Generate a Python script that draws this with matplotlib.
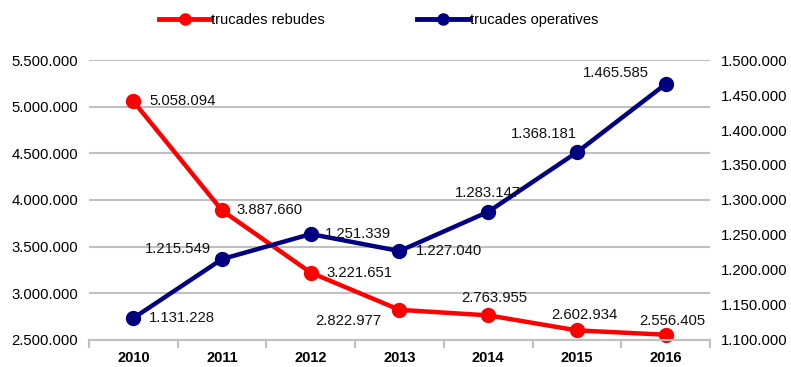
import matplotlib
matplotlib.use("Agg")
import matplotlib.pyplot as plt
from matplotlib.lines import Line2D
from matplotlib.ticker import FuncFormatter, MultipleLocator, FixedLocator

plt.rcParams["font.family"] = ["Liberation Sans", "DejaVu Sans"]

years = ["2010", "2011", "2012", "2013", "2014", "2015", "2016"]
rebudes = [5058094, 3887660, 3221651, 2822977, 2763955, 2602934, 2556405]
operatives = [1131228, 1215549, 1251339, 1227040, 1283147, 1368181, 1465585]

RED, BLUE, GRID = "#ff0000", "#000080", "#c0c0c0"
FS = 10.7

# label offsets in pixels (dx, dy, ha)
red_off = [(16, 0, "left"), (14, 0, "left"), (16, 0, "left"), (-18, -11, "right"),
           (6, 17, "center"), (7, 15, "center"), (7, 14, "center")]
blue_off = [(16, 0, "left"), (-11, 10, "right"), (14, 0, "left"), (16, 0, "left"),
            (0, 19, "center"), (0, 18, "right"), (-17, 11, "right")]


def dots(v, _=None):
    return f"{v:,.0f}".replace(",", ".")


fig = plt.figure(figsize=(7.91, 3.67), dpi=100)
ax = fig.add_axes([0.1125, 0.0736, 0.7851, 0.7629])
ax2 = ax.twinx()

x = list(range(len(years)))
ax.plot(x, rebudes, color=RED, lw=3.2, marker="o", ms=10, zorder=3, clip_on=False)
ax2.plot(x, operatives, color=BLUE, lw=3.2, marker="o", ms=10, zorder=3, clip_on=False)

for xi, v, (dx, dy, ha) in zip(x, rebudes, red_off):
    ax.annotate(dots(v), (xi, v), xytext=(dx, dy), textcoords="offset pixels",
                ha=ha, va="center", fontsize=FS, color="#111111")
for xi, v, (dx, dy, ha) in zip(x, operatives, blue_off):
    ax2.annotate(dots(v), (xi, v), xytext=(dx, dy), textcoords="offset pixels",
                 ha=ha, va="center", fontsize=FS, color="#111111")

ax.set_xlim(-0.5, len(years) - 0.5)
ax.set_ylim(2500000, 5500000)
ax2.set_ylim(1100000, 1500000)
ax.yaxis.set_major_locator(MultipleLocator(500000))
ax2.yaxis.set_major_locator(MultipleLocator(50000))
ax.yaxis.set_major_formatter(FuncFormatter(dots))
ax2.yaxis.set_major_formatter(FuncFormatter(dots))

ax.set_xticks(x)
ax.set_xticklabels(years, fontweight="bold", fontsize=10.5)
ax.xaxis.set_minor_locator(FixedLocator([i - 0.5 for i in range(len(years) + 1)]))
ax.tick_params(axis="x", which="major", length=0, pad=8)
ax.tick_params(axis="x", which="minor", length=6, color=GRID, width=1.5)
ax.tick_params(axis="y", length=0, pad=8, labelsize=FS)
ax2.tick_params(axis="y", length=0, pad=8, labelsize=FS)

ax.grid(axis="y", color=GRID, lw=1.5)
ax.set_axisbelow(True)
for a in (ax, ax2):
    for s in ("top", "left", "right"):
        a.spines[s].set_visible(False)
    a.spines["bottom"].set_color(GRID)
    a.spines["bottom"].set_linewidth(1.5)

handles = [Line2D([], [], color=RED, lw=3.5, marker="o", ms=8),
           Line2D([], [], color=BLUE, lw=3.5, marker="o", ms=8)]
fig.legend(handles, ["trucades rebudes", "trucades operatives"], loc="center",
           bbox_to_anchor=(0.4785, 0.9455), ncol=2, frameon=False, fontsize=10.5,
           handlelength=3.6, handletextpad=0.0, columnspacing=6.3, borderpad=0)

fig.savefig("out.png", dpi=100)
